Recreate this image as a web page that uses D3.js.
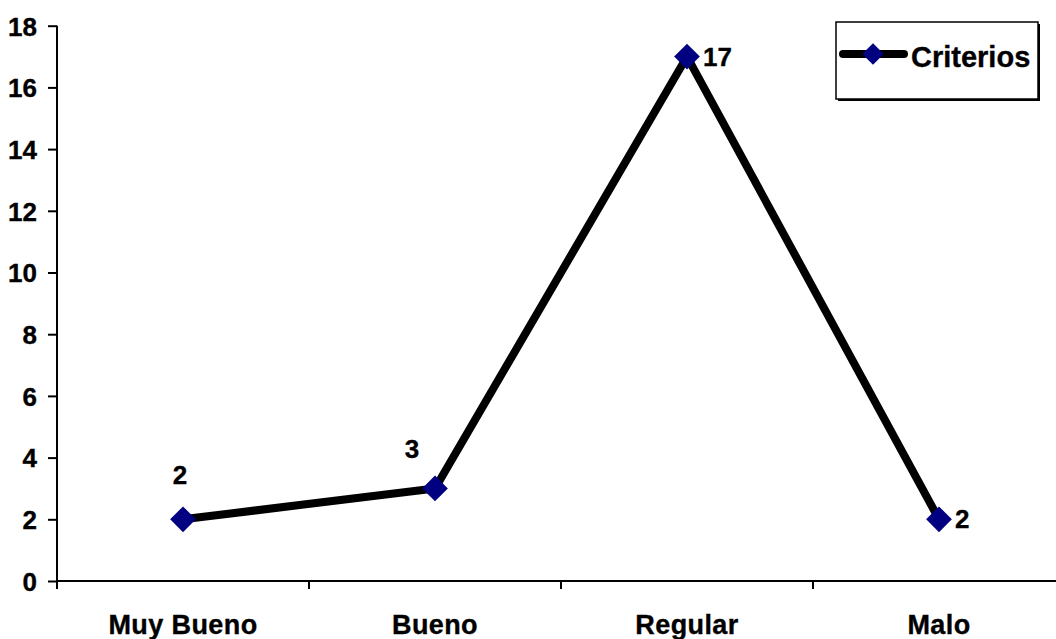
<!DOCTYPE html>
<html><head><meta charset="utf-8">
<script src="https://cdn.jsdelivr.net/npm/d3@7/dist/d3.min.js"></script>
<style>body{margin:0;background:#fff}svg{display:block}text{font-family:Arial,"Liberation Sans",sans-serif;font-weight:bold;fill:#000;stroke:#000;stroke-width:0.35px}</style>
</head><body><svg id="c" width="1056" height="639"></svg>
<script>
const categories = ["Muy Bueno", "Bueno", "Regular", "Malo"];
const values = [2, 3, 17, 2];
const yTicks = [0, 2, 4, 6, 8, 10, 12, 14, 16, 18];
const seriesName = "Criterios";
const labelPlacement = ["above", "aboveLeft", "right", "right"];

const svg = d3.select("#c");
const x = d3.scaleBand().domain(categories).range([57, 1065]);
const y = d3.scaleLinear().domain([0, 18]).range([581, 25.7]);

// y axis
const yAxis = svg.append("g").attr("transform", "translate(57,0)")
  .call(d3.axisLeft(y).tickValues(yTicks).tickSize(9).tickPadding(11).tickFormat(d3.format("d")));
yAxis.select(".domain").attr("stroke", "#000").attr("stroke-width", 2).attr("d", `M0,${y(18)}V${y(0)}`);
yAxis.selectAll(".tick line").attr("stroke", "#000").attr("stroke-width", 2);
yAxis.selectAll(".tick text").attr("font-size", 26).attr("font-family", "Arial, 'Liberation Sans', sans-serif").attr("font-weight", "bold").attr("fill", "#000").attr("dy", "0.36em");

// x axis
const xg = svg.append("g");
xg.append("line").attr("x1", 57).attr("x2", 1065).attr("y1", y(0)).attr("y2", y(0)).attr("stroke", "#000").attr("stroke-width", 2);
const bounds = categories.map(c => x(c));
xg.selectAll(".xt").data(bounds).join("line")
  .attr("x1", d => d).attr("x2", d => d).attr("y1", y(0)).attr("y2", y(0) + 8)
  .attr("stroke", "#000").attr("stroke-width", 2);
xg.selectAll(".xl").data(categories).join("text")
  .attr("x", d => x(d) + x.bandwidth() / 2).attr("y", 634)
  .attr("text-anchor", "middle").attr("font-size", 27).style("letter-spacing", "0.4px")
  .text(d => d);

// line
const pts = categories.map((c, i) => ({c, v: values[i], i}));
const cx = d => x(d.c) + x.bandwidth() / 2;
svg.append("path").datum(pts)
  .attr("d", d3.line().x(cx).y(d => y(d.v)))
  .attr("fill", "none").attr("stroke", "#000").attr("stroke-width", 8).attr("stroke-linejoin", "miter");

svg.selectAll(".m").data(pts).join("path")
  .attr("transform", d => `translate(${cx(d)},${y(d.v)}) rotate(45)`)
  .attr("d", d3.symbol().type(d3.symbolSquare).size(330))
  .attr("fill", "#000080");

// data labels
svg.selectAll(".dl").data(pts).join("text")
  .attr("font-size", 26)
  .attr("x", d => {
    const p = labelPlacement[d.i];
    return p === "above" ? cx(d) - 3 : p === "aboveLeft" ? cx(d) - 23 : cx(d) + 16;
  })
  .attr("y", d => {
    const p = labelPlacement[d.i];
    return p === "above" ? y(d.v) - 35 : p === "aboveLeft" ? y(d.v) - 30 : y(d.v) + 9;
  })
  .attr("text-anchor", d => labelPlacement[d.i] === "right" ? "start" : "middle")
  .text(d => d.v);

// legend
const lg = svg.append("g");
lg.append("rect").attr("x", 838).attr("y", 24).attr("width", 202).attr("height", 77).attr("fill", "#000");
lg.append("rect").attr("x", 836).attr("y", 22).attr("width", 202).attr("height", 77).attr("fill", "#fff").attr("stroke", "#000").attr("stroke-width", 1.5);
lg.append("line").attr("x1", 843).attr("x2", 904).attr("y1", 54).attr("y2", 54).attr("stroke", "#000").attr("stroke-width", 8).attr("stroke-linecap", "round");
lg.append("path").attr("transform", "translate(873,54) rotate(45)").attr("d", d3.symbol().type(d3.symbolSquare).size(230)).attr("fill", "#000080");
lg.append("text").attr("x", 911).attr("y", 67).attr("font-size", 29).text(seriesName);
</script></body></html>
